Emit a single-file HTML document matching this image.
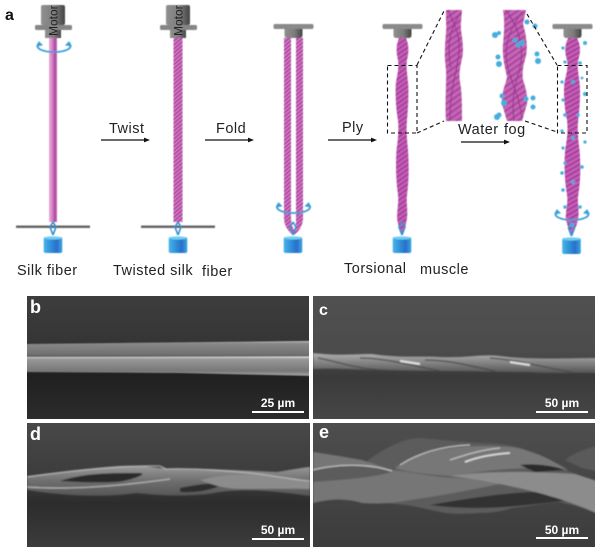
<!DOCTYPE html>
<html><head><meta charset="utf-8">
<style>html,body{margin:0;padding:0;background:#fff}svg{display:block}
text{font-family:"Liberation Sans",sans-serif}</style></head>
<body>
<svg xmlns="http://www.w3.org/2000/svg" width="600" height="549" viewBox="0 0 600 549">
<defs>
<filter id="soft" x="-5%" y="-5%" width="110%" height="110%"><feGaussianBlur stdDeviation="0.7"/></filter>
<filter id="soft2" x="-5%" y="-5%" width="110%" height="110%"><feGaussianBlur stdDeviation="0.4"/></filter>
<clipPath id="cb"><rect x="27" y="296" width="282" height="123"/></clipPath>
<clipPath id="cc"><rect x="313" y="296" width="282" height="123"/></clipPath>
<clipPath id="cd"><rect x="27" y="423" width="283" height="124"/></clipPath>
<clipPath id="ce"><rect x="313" y="423" width="282" height="124"/></clipPath>
<linearGradient id="fib" x1="0" x2="1" y1="0" y2="0"><stop offset="0" stop-color="#eaaedb"/><stop offset=".45" stop-color="#d27cc1"/><stop offset=".75" stop-color="#ac459f"/><stop offset="1" stop-color="#c974b9"/></linearGradient>
<pattern id="hat" width="3" height="3" patternUnits="userSpaceOnUse" patternTransform="rotate(-40)"><rect width="3" height="3" fill="#ab3a9c"/><rect width="3" height="1.300" fill="#d988cc"/></pattern>
<pattern id="hat3" width="4" height="4" patternUnits="userSpaceOnUse" patternTransform="rotate(-35)"><rect width="4" height="4" fill="#c45fb4"/><rect width="4" height="1.500" fill="#a2389a"/></pattern>
<pattern id="hat2" width="5" height="5" patternUnits="userSpaceOnUse" patternTransform="rotate(-35)"><rect width="5" height="5" fill="#c565b4"/><rect width="5" height="1.600" fill="#a2409a"/></pattern>
<linearGradient id="met" x1="0" x2="1" y1="0" y2="0"><stop offset="0" stop-color="#8f8f8f"/><stop offset=".55" stop-color="#7d7d7d"/><stop offset="1" stop-color="#444"/></linearGradient>
<linearGradient id="wt" x1="0" x2="1" y1="0" y2="0"><stop offset="0" stop-color="#47b5e8"/><stop offset=".4" stop-color="#2f8ed8"/><stop offset=".7" stop-color="#2a6fc8"/><stop offset="1" stop-color="#3da6e2"/></linearGradient>
<linearGradient id="bb" x1="0" x2="0" y1="0" y2="1"><stop offset="0" stop-color="#3d3d3d"/><stop offset=".35" stop-color="#363636"/><stop offset=".65" stop-color="#202020"/><stop offset="1" stop-color="#2c2c2c"/></linearGradient>
<linearGradient id="bc" x1="0" x2="0" y1="0" y2="1"><stop offset="0" stop-color="#505050"/><stop offset=".45" stop-color="#4c4c4c"/><stop offset=".65" stop-color="#3a3a3a"/><stop offset="1" stop-color="#464646"/></linearGradient>
<linearGradient id="bd" x1="0" x2="0" y1="0" y2="1"><stop offset="0" stop-color="#484848"/><stop offset=".45" stop-color="#3c3c3c"/><stop offset=".65" stop-color="#2c2c2c"/><stop offset="1" stop-color="#3c3c3c"/></linearGradient>
<linearGradient id="be" x1="0" x2="0" y1="0" y2="1"><stop offset="0" stop-color="#4e4e4e"/><stop offset="1" stop-color="#3c3c3c"/></linearGradient>
<linearGradient id="f1" x1="0" x2="0" y1="0" y2="1"><stop offset="0" stop-color="#cfcfcf"/><stop offset=".12" stop-color="#8a8a8a"/><stop offset=".8" stop-color="#707070"/><stop offset="1" stop-color="#4c4c4c"/></linearGradient>
<linearGradient id="f2" x1="0" x2="0" y1="0" y2="1"><stop offset="0" stop-color="#e8e8e8"/><stop offset=".12" stop-color="#999"/><stop offset=".75" stop-color="#777"/><stop offset="1" stop-color="#aaa"/></linearGradient>
<linearGradient id="rp" x1="0" x2="0" y1="0" y2="1"><stop offset="0" stop-color="#b0b0b0"/><stop offset=".45" stop-color="#868686"/><stop offset="1" stop-color="#555"/></linearGradient>
<linearGradient id="st" x1="0" x2="0" y1="0" y2="1"><stop offset="0" stop-color="#9a9a9a"/><stop offset=".5" stop-color="#6e6e6e"/><stop offset="1" stop-color="#555"/></linearGradient>
<g id="weight">
<path d="M0 -15 l-3 5 l3 8 M0 -15 l3 5 l-3 8" fill="none" stroke="#2d8fd0" stroke-width="1.600"/>
<rect x="-9.300" y="0" width="18.600" height="16" rx="2" fill="url(#wt)"/>
<ellipse cx="0" cy="1" rx="9.300" ry="1.600" fill="#6fcdf2"/>
</g>
<g id="plate">
<rect x="-20" y="24" width="40" height="5" rx="1.500" fill="#8a8a8a"/>
<path d="M-9 29H9V35Q9 38 6 38H-6Q-9 38-9 35Z" fill="url(#met)"/>
</g>
<g id="motor">
<rect x="-12" y="5" width="24" height="20" rx="2" fill="url(#met)"/>
<rect x="-18" y="25" width="37" height="5" rx="1.500" fill="#858585"/>
<rect x="-8" y="30" width="16" height="8" fill="url(#met)"/>
</g>
<g id="rope"><path d="M399 38C396 45 396 52 398 60C399 66 398 72 396 82C395 92 396 110 398 120C399 130 398 140 396.500 150C395.500 165 396 180 398 195C399 202 397 210 397 218C398 226 400 230 402 234C404 230 406 226 407 218C408 210 406 202 407 195C409 180 409 165 408 150C407 140 406 130 407 120C408 110 409 92 408 82C407 72 406 66 407 60C409 52 409 45 406 38Z"/></g>
<g id="spin"><path d="M-15 -4C-20 1-12 5 0 5C12 5 20 1 15 -4" fill="none" stroke="#3a9fd8" stroke-width="1.800"/><path d="M-15 -5l-2 4 5-1ZM15 -5l2 4-5-1Z" fill="#3a9fd8" stroke="#3a9fd8"/></g>
<path id="arr" d="M0 -.6H43V-2.400L49 0L43 2.400V.6H0Z" fill="#111"/>
</defs>

<text x="5" y="20" font-size="16" font-weight="bold" fill="#111">a</text>

<g filter="url(#soft2)">
<rect x="49" y="38" width="8" height="184" fill="url(#fib)"/>
<use href="#motor" x="53"/>
<use href="#spin" x="54" y="47"/>
<rect x="16" y="225.500" width="74" height="2.500" fill="#666"/>
<use href="#weight" x="53" y="237"/>

<rect x="173.500" y="38" width="9" height="184" fill="url(#hat)"/>
<use href="#motor" x="178"/>
<rect x="141" y="225.500" width="74" height="2.500" fill="#666"/>
<use href="#weight" x="178" y="237"/>

<path d="M284 38H291V218Q291 226 295 231L293 235Q284 228 284 218Z" fill="url(#hat)"/>
<path d="M296 38H303V218Q303 228 294 235L296 225Q296 222 296 218Z" fill="url(#hat)"/>
<use href="#plate" x="293.500"/>
<use href="#spin" x="293.500" y="208"/>
<use href="#weight" x="293" y="237"/>

<use href="#rope" fill="url(#hat3)"/>
<use href="#plate" x="402.500"/>
<use href="#weight" x="402" y="237"/>

<path d="M446 10H462L461 22C460 30 463 38 463 50C463 60 458 68 460 82C462 92 462 105 462 121H446C445 105 446 92 446 82C447 68 444 60 445 50C445 38 447 30 446 22Z" fill="url(#hat2)"/>
<path d="M448 10C456 28 462 38 458 60C455 78 450 92 450 121M461 12C448 32 447 48 451 68" fill="none" stroke="#9a3590" stroke-width="1"/>

<path d="M503 10H526L523 24C526 34 528 46 526 56C523 66 522 72 523 80C526 88 528 98 527 104L522 121H507L502 104C501 92 506 84 507 77C505 68 502 56 503 45C504 32 505 22 503 10Z" fill="url(#hat2)"/>
<path d="M506 10C520 30 526 50 518 75C513 90 512 105 514 121M522 12C505 35 503 55 510 75C514 88 520 100 522 118" fill="none" stroke="#9a3590" stroke-width="1"/>

<g transform="translate(572,0) scale(1.250,1) translate(-402,0)"><use href="#rope" fill="url(#hat3)"/></g>
<use href="#plate" x="572.500"/>
<use href="#spin" x="572" y="215"/>
<use href="#weight" x="571.500" y="238"/>

<g fill="#45aede">
<circle cx="495" cy="35" r="3"/><circle cx="499" cy="33" r="2"/><circle cx="515" cy="40" r="2.500"/><circle cx="522" cy="43" r="3"/><circle cx="518" cy="45" r="2.500"/><circle cx="498" cy="57" r="2.500"/><circle cx="499" cy="64" r="3"/><circle cx="537" cy="54" r="2.500"/><circle cx="538" cy="61" r="3"/><circle cx="527" cy="22" r="2.500"/><circle cx="535" cy="26" r="2.500"/><circle cx="502" cy="96" r="2.500"/><circle cx="504" cy="103" r="3"/><circle cx="526" cy="99" r="2.500"/><circle cx="533" cy="98" r="2.500"/><circle cx="533" cy="107" r="2.500"/><circle cx="497" cy="117" r="3"/><circle cx="499" cy="115" r="2.500"/>
<circle cx="585" cy="43" r="2"/><circle cx="563" cy="48" r="1.600"/><circle cx="565" cy="62" r="1.600"/><circle cx="580" cy="63" r="1.800"/><circle cx="573" cy="82" r="2"/><circle cx="562" cy="82" r="1.600"/><circle cx="582" cy="78" r="1.400"/><circle cx="585" cy="94" r="2"/><circle cx="563" cy="100" r="1.600"/><circle cx="565" cy="115" r="1.800"/><circle cx="578" cy="115" r="1.800"/><circle cx="562" cy="131" r="1.600"/><circle cx="573" cy="138" r="2"/><circle cx="585" cy="142" r="1.600"/><circle cx="563" cy="148" r="1.600"/><circle cx="565" cy="163" r="1.600"/><circle cx="582" cy="167" r="1.800"/><circle cx="562" cy="173" r="1.800"/><circle cx="573" cy="182" r="2"/><circle cx="563" cy="190" r="1.800"/><circle cx="565" cy="207" r="1.800"/><circle cx="580" cy="207" r="1.800"/><circle cx="572" cy="225" r="2.500"/>
</g>
</g>

<text transform="translate(57.500,36) rotate(-90)" font-size="12" fill="#222">Motor</text>
<text transform="translate(182.500,36) rotate(-90)" font-size="12" fill="#222">Motor</text>

<rect x="387.500" y="65.500" width="29.500" height="67.500" fill="none" stroke="#111" stroke-width="1.100" stroke-dasharray="4 3"/>
<path d="M417 65L444 11M417 133L444 121" fill="none" stroke="#111" stroke-width="1.100" stroke-dasharray="4 3"/>
<path d="M527 14L557 65M525 121L557 132" fill="none" stroke="#111" stroke-width="1.100" stroke-dasharray="4 3"/>
<rect x="557.500" y="65.500" width="29.500" height="67.500" fill="none" stroke="#111" stroke-width="1.100" stroke-dasharray="4 3"/>

<g font-size="14.500" fill="#222" letter-spacing=".5">
<text x="109" y="133">Twist</text>
<text x="216" y="133">Fold</text>
<text x="342" y="132">Ply</text>
<text x="458" y="134">Water</text>
<text x="504" y="134">fog</text>
<text x="17" y="275">Silk fiber</text>
<text x="113" y="275">Twisted silk</text>
<text x="202" y="276">fiber</text>
<text x="344" y="273">Torsional</text>
<text x="420" y="274">muscle</text>
</g>
<use href="#arr" x="101" y="140"/><use href="#arr" x="205" y="140"/><use href="#arr" x="328" y="140"/><use href="#arr" x="461" y="142"/>

<!-- panel b -->
<rect x="27" y="296" width="282" height="123" fill="url(#bb)"/>
<g clip-path="url(#cb)"><g filter="url(#soft2)">
<path d="M20 344L315 341V357L20 358Z" fill="url(#f1)"/>
<path d="M20 357L315 356.500V376L180 373L20 372Z" fill="url(#f2)"/>
</g></g>
<text x="30" y="313" font-size="18" font-weight="bold" fill="#fff">b</text>
<text x="278" y="407" font-size="12" font-weight="bold" fill="#fff" text-anchor="middle">25 µm</text>
<rect x="252" y="411" width="52" height="2" fill="#fff"/>

<!-- panel c -->
<rect x="313" y="296" width="282" height="123" fill="url(#bc)"/>
<g clip-path="url(#cc)"><g filter="url(#soft)">
<path d="M313 353C340 356 350 354 372 354C400 358 420 356 440 357C470 358 480 354 500 356C530 360 570 358 600 358V373C570 372 550 374 530 372C500 372 470 371 440 371C410 371 390 370 370 370C350 369 330 368 313 369Z" fill="url(#rp)"/>
<path d="M318 358C340 362 360 370 385 370M360 358C385 358 415 366 440 371M425 360C450 360 470 366 495 371M490 358C520 360 545 368 572 372" fill="none" stroke="#484848" stroke-width="1.200"/>
<path d="M400 361L420 364M510 362L530 365" stroke="#e6e6e6" stroke-width="2"/>
</g></g>
<text x="319" y="315" font-size="16" font-weight="bold" fill="#fff">c</text>
<text x="562" y="407" font-size="12" font-weight="bold" fill="#fff" text-anchor="middle">50 µm</text>
<rect x="536" y="411" width="52" height="2" fill="#fff"/>

<!-- panel d -->
<rect x="27" y="423" width="283" height="124" fill="url(#bd)"/>
<g clip-path="url(#cd)"><g filter="url(#soft)">
<path d="M27 476C60 472 90 468 120 466C140 465 150 467 170 469C200 468 230 470 277 472C290 470 300 468 310 467V496C280 492 250 488 220 492C200 496 170 497 137 493C110 497 70 497 27 490Z" fill="url(#st)"/>
<path d="M60 481C85 473 110 473 140 473C150 474 125 482 115 482C95 483 75 482 60 481Z" fill="#2c2c2c"/>
<path d="M180 488C200 484 210 483 222 484C215 490 195 493 180 492Z" fill="#2e2e2e"/>
<path d="M200 480C230 472 270 473 310 481V489C270 488 240 490 228 488C215 486 205 482 200 480Z" fill="#8c8c8c"/>
<path d="M27 477C60 472 120 465 160 466L166 469C190 468 215 470 250 473C275 476 295 480 310 481M27 487C70 490 120 486 170 479" fill="none" stroke="#c0c0c0" stroke-width="1"/>
</g></g>
<text x="30" y="440" font-size="18" font-weight="bold" fill="#fff">d</text>
<text x="278" y="534" font-size="12" font-weight="bold" fill="#fff" text-anchor="middle">50 µm</text>
<rect x="252" y="538" width="52" height="2" fill="#fff"/>

<!-- panel e -->
<rect x="313" y="423" width="282" height="124" fill="url(#be)"/>
<g clip-path="url(#ce)"><g filter="url(#soft)">
<path d="M368 460C390 445 405 438 420 438C445 440 465 442 482 443C505 444 520 445 535 455C550 465 575 474 600 482V515C585 508 570 504 558 502C540 504 530 506 512 508C500 512 490 513 478 513C465 514 455 514 445 513C430 510 415 506 405 505C395 504 390 503 382 503L368 480Z" fill="#5c5c5c"/>
<path d="M395 468C420 448 470 444 510 447C535 450 555 462 568 470C530 465 490 470 450 476C425 474 405 472 395 468Z" fill="#777"/>
<path d="M520 465C535 463 555 466 565 470L535 472Z" fill="#2c2c2c"/>
<path d="M430 505C470 498 510 492 540 492L570 500C530 505 480 512 430 505Z" fill="#333"/>
<path d="M313 452C335 455 350 458 362 460C375 464 385 468 392 470C410 472 425 475 442 477C470 479 495 480 510 482C470 490 440 496 410 500C390 504 375 504 362 503C345 498 330 499 313 503Z" fill="#767676"/>
<path d="M313 470C340 462 370 464 392 472C370 478 340 480 313 482Z" fill="#5c5c5c"/>
<path d="M450 476C490 470 540 472 575 474L600 482V515C570 500 520 485 450 476Z" fill="#8c8c8c"/>
<path d="M565 460C578 450 590 448 600 445V472L582 468Z" fill="#5a5a5a"/>
<path d="M313 470C340 463 370 464 392 471M450 460C465 455 480 450 500 448M400 465C420 452 445 446 470 445" fill="none" stroke="#d0d0d0" stroke-width="1"/>
<path d="M465 462C480 456 495 454 510 453" stroke="#e8e8e8" stroke-width="1.600" fill="none"/>
</g></g>
<text x="319" y="438" font-size="18" font-weight="bold" fill="#fff">e</text>
<text x="562" y="534" font-size="12" font-weight="bold" fill="#fff" text-anchor="middle">50 µm</text>
<rect x="536" y="537" width="52" height="2" fill="#fff"/>
</svg>
</body></html>
